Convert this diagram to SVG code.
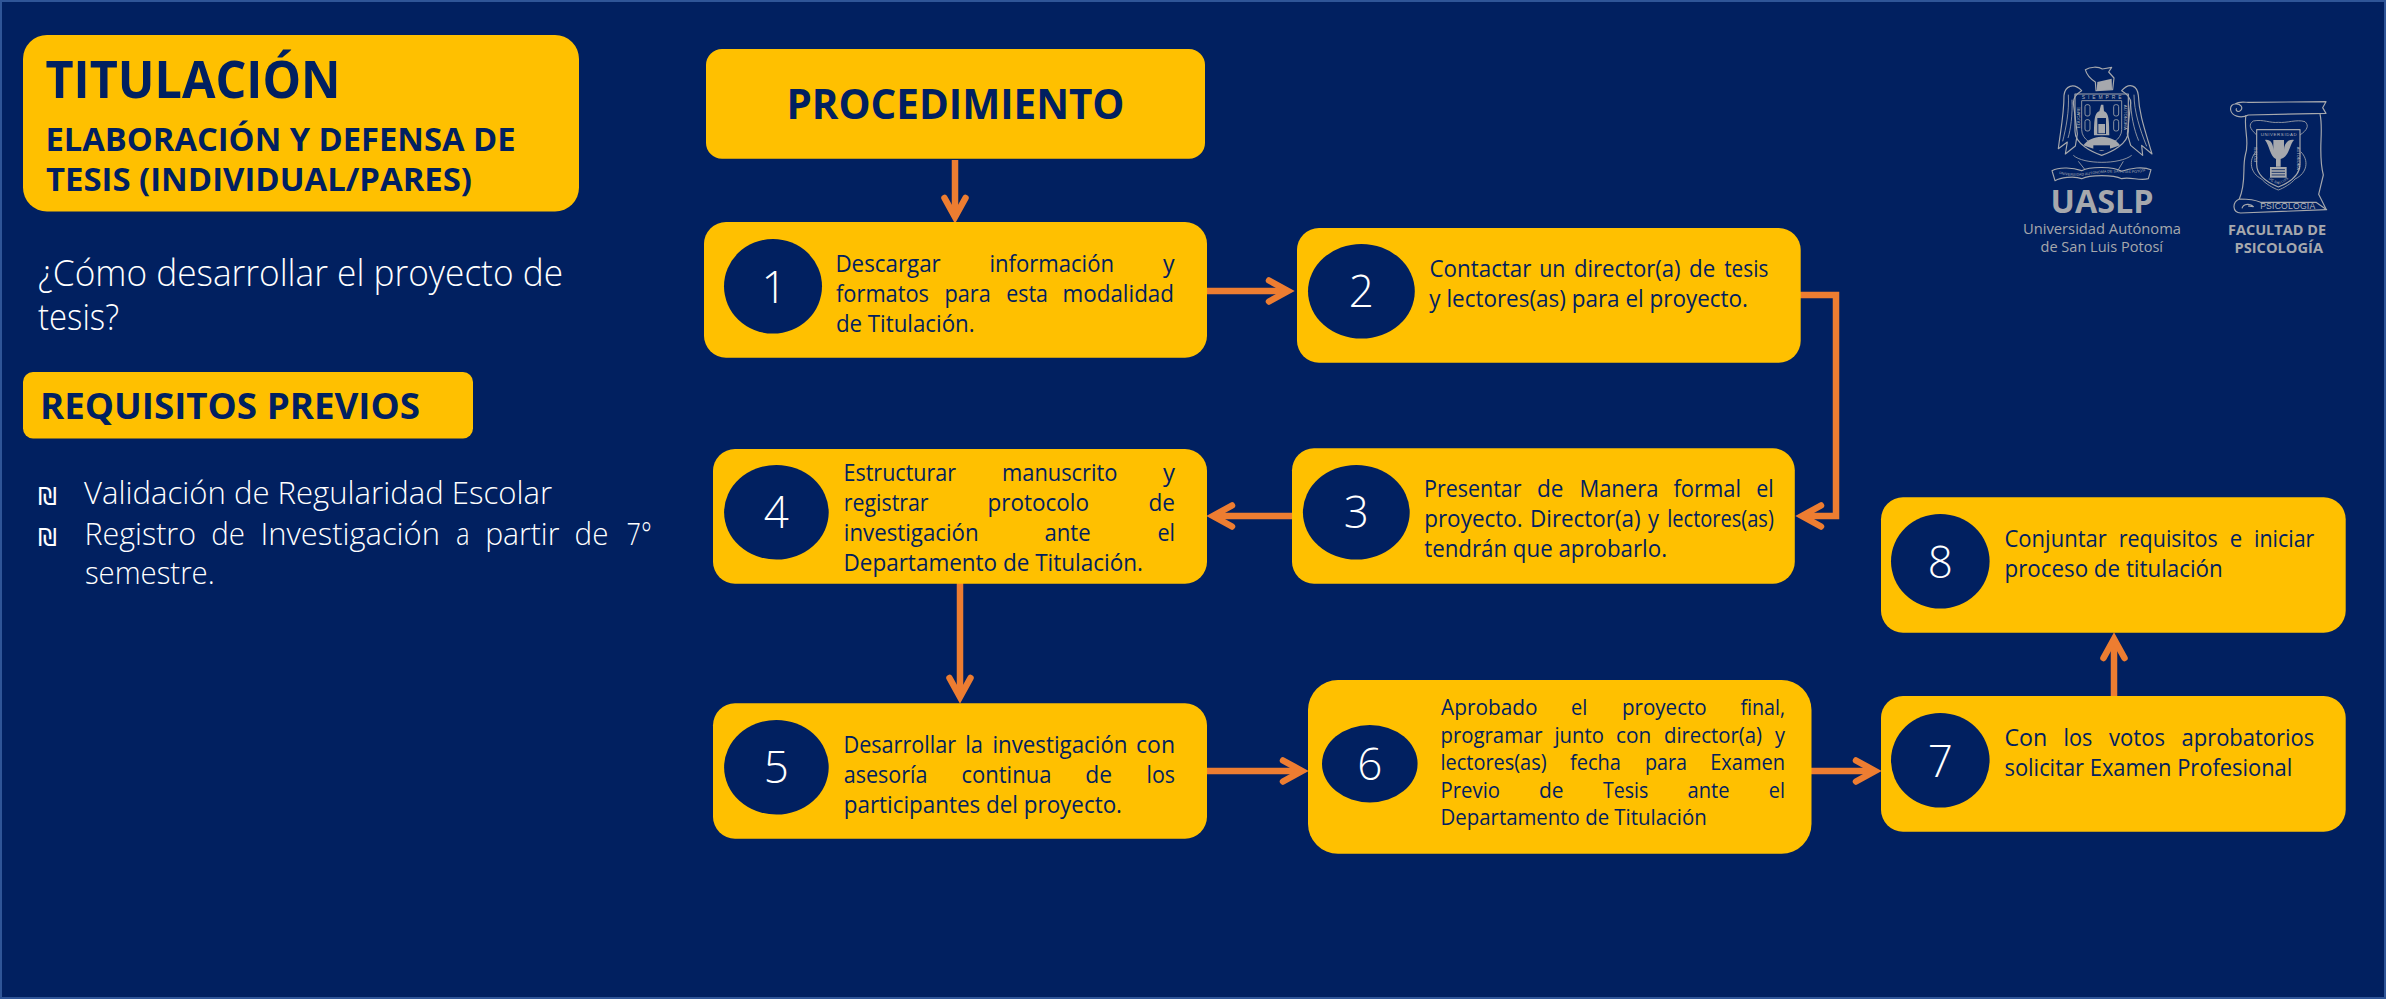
<svg xmlns="http://www.w3.org/2000/svg" width="2386" height="999" viewBox="0 0 2386 999">
<style>
.box{fill:#ffc000}
.c{fill:#012060}
.h{font-family:"Open Sans","Noto Sans",sans-serif;font-weight:700;fill:#012060}
.t{font-family:"Open Sans","Noto Sans",sans-serif;font-weight:400;font-size:24px;fill:#012060}
.s{font-size:22px}
.w{font-family:"Open Sans","Noto Sans",sans-serif;font-weight:300;fill:#fff}
.n{font-family:"Open Sans","Noto Sans",sans-serif;font-weight:300;font-size:44px;fill:#fff;text-anchor:middle}
.l{font-family:"Open Sans","Noto Sans",sans-serif;fill:#a6a8ad}
.cn{fill:none;stroke:#ed7d31;stroke-width:6.500}
.ln{fill:none;stroke:#a6a8ad;stroke-width:3.500;stroke-linejoin:round}
.ln2{fill:none;stroke:#a6a8ad;stroke-width:2.500}
.fl{fill:#a6a8ad}
.mi{font-family:"Liberation Sans",sans-serif;fill:#b4b6bb;font-size:15px;text-anchor:middle}
</style>
<defs><marker id="a" markerUnits="userSpaceOnUse" markerWidth="50" markerHeight="50" viewBox="-30 -25 50 50" refX="0" refY="0" orient="auto"><path d="M-19,-10.500 L0,0 L-19,10.500" fill="none" stroke="#ed7d31" stroke-width="6.500" stroke-linecap="round"/></marker>
<path id="arc1" d="M118,222 C128,255 160,272 185,280 C210,272 243,255 253,222"/>
<path id="arc2" d="M48,345 C100,360 130,352 185,345 C240,338 280,355 325,335"/>
<path id="arc3" d="M122,222 C132,245 155,262 175,268 C195,262 220,245 230,222"/></defs>
<rect x="1" y="1" width="2384" height="997" fill="#012060" stroke="#2f5597" stroke-width="2"/>
<g id="titulo"><rect class="box" x="23" y="35" width="556" height="176.500" rx="24"/>
<text class="h" x="45.500" y="98" font-size="52" textLength="295" lengthAdjust="spacingAndGlyphs">TITULACIÓN</text>
<text class="h" x="45.500" y="150.600" font-size="33" textLength="470" lengthAdjust="spacingAndGlyphs">ELABORACIÓN Y DEFENSA DE</text>
<text class="h" x="46" y="191" font-size="33" textLength="426" lengthAdjust="spacingAndGlyphs">TESIS (INDIVIDUAL/PARES)</text></g>
<g id="pregunta"><text class="w" x="38" y="285.500" font-size="36" textLength="525" lengthAdjust="spacingAndGlyphs">¿Cómo desarrollar el proyecto de</text>
<text class="w" x="38" y="330" font-size="36" textLength="81" lengthAdjust="spacingAndGlyphs">tesis?</text></g>
<g id="requisitos"><rect class="box" x="23" y="372" width="450" height="66.500" rx="10"/>
<text class="h" x="40" y="419" font-size="36" textLength="380" lengthAdjust="spacingAndGlyphs">REQUISITOS PREVIOS</text></g>
<g id="lista"><text x="38" y="505" font-family="DejaVu Sans" font-size="24" fill="#fff">₪</text><text x="38" y="545.500" font-family="DejaVu Sans" font-size="24" fill="#fff">₪</text>
<text class="w" x="84" y="504" font-size="32" textLength="468" lengthAdjust="spacingAndGlyphs">Validación de Regularidad Escolar</text>
<text class="w" y="544.500" font-size="32"><tspan x="84.500" textLength="111.500" lengthAdjust="spacingAndGlyphs">Registro</tspan> <tspan x="211.200" textLength="33.800" lengthAdjust="spacingAndGlyphs">de</tspan> <tspan x="260.500" textLength="179.500" lengthAdjust="spacingAndGlyphs">Investigación</tspan> <tspan x="456" textLength="13.600" lengthAdjust="spacingAndGlyphs">a</tspan> <tspan x="485.200" textLength="74.200" lengthAdjust="spacingAndGlyphs">partir</tspan> <tspan x="574.600" textLength="33.800" lengthAdjust="spacingAndGlyphs">de</tspan> <tspan x="626.600" textLength="25.200" lengthAdjust="spacingAndGlyphs">7°</tspan></text>
<text class="w" x="84.900" y="584.400" font-size="32" textLength="129.800" lengthAdjust="spacingAndGlyphs">semestre.</text></g>
<g id="conectores">
<path class="cn" d="M955,160V217" marker-end="url(#a)"/>
<path class="cn" d="M1207,291H1288" marker-end="url(#a)"/>
<path class="cn" d="M1800,295H1836V516H1802" marker-end="url(#a)"/>
<path class="cn" d="M1292,516H1213" marker-end="url(#a)"/>
<path class="cn" d="M960,583V697" marker-end="url(#a)"/>
<path class="cn" d="M1207,771H1302" marker-end="url(#a)"/>
<path class="cn" d="M1811,771H1875" marker-end="url(#a)"/>
<path class="cn" d="M2114,697V639" marker-end="url(#a)"/>
</g>
<g id="procedimiento"><rect class="box" x="706" y="49" width="499" height="109.700" rx="16"/>
<text class="h" x="786.500" y="119.300" font-size="42" textLength="338" lengthAdjust="spacingAndGlyphs">PROCEDIMIENTO</text></g>
<g id="n1"><rect class="box" x="704" y="222" width="503" height="135.700" rx="22"/><ellipse class="c" cx="773" cy="286.300" rx="49" ry="47.300"/><text class="n" x="774" y="302.700">1</text>
<text class="t" y="271.700"><tspan x="835.400" textLength="105.300" lengthAdjust="spacingAndGlyphs">Descargar</tspan> <tspan x="989.500" textLength="124.500" lengthAdjust="spacingAndGlyphs">información</tspan> <tspan x="1163" textLength="11.600" lengthAdjust="spacingAndGlyphs">y</tspan></text>
<text class="t" y="301.700"><tspan x="836" textLength="93" lengthAdjust="spacingAndGlyphs">formatos</tspan> <tspan x="944.500" textLength="46.200" lengthAdjust="spacingAndGlyphs">para</tspan> <tspan x="1006.300" textLength="41.600" lengthAdjust="spacingAndGlyphs">esta</tspan> <tspan x="1062.500" textLength="111.500" lengthAdjust="spacingAndGlyphs">modalidad</tspan></text>
<text class="t" x="835.900" y="331.700" textLength="138.700" lengthAdjust="spacingAndGlyphs">de Titulación.</text></g>
<g id="n2"><rect class="box" x="1297" y="228" width="503.700" height="134.700" rx="22"/><ellipse class="c" cx="1361.400" cy="291.300" rx="53.400" ry="47.300"/><text class="n" x="1361.400" y="307.300">2</text>
<text class="t" y="277.300"><tspan x="1429.500" textLength="101.900" lengthAdjust="spacingAndGlyphs">Contactar</tspan> <tspan x="1539.200" textLength="26.200" lengthAdjust="spacingAndGlyphs">un</tspan> <tspan x="1574" textLength="106.500" lengthAdjust="spacingAndGlyphs">director(a)</tspan> <tspan x="1689.100" textLength="26.200" lengthAdjust="spacingAndGlyphs">de</tspan> <tspan x="1724.200" textLength="44.100" lengthAdjust="spacingAndGlyphs">tesis</tspan></text>
<text class="t" x="1429.300" y="307.300" textLength="318.700" lengthAdjust="spacingAndGlyphs">y lectores(as) para el proyecto.</text></g>
<g id="n3"><rect class="box" x="1292" y="448.300" width="502.800" height="135.400" rx="22"/><ellipse class="c" cx="1356.300" cy="512.300" rx="53.400" ry="47.300"/><text class="n" x="1356.300" y="528.300">3</text>
<text class="t" y="497.300"><tspan x="1424" textLength="97.500" lengthAdjust="spacingAndGlyphs">Presentar</tspan> <tspan x="1536.900" textLength="26.500" lengthAdjust="spacingAndGlyphs">de</tspan> <tspan x="1579.400" textLength="79" lengthAdjust="spacingAndGlyphs">Manera</tspan> <tspan x="1673.500" textLength="67.500" lengthAdjust="spacingAndGlyphs">formal</tspan> <tspan x="1756.300" textLength="17.500" lengthAdjust="spacingAndGlyphs">el</tspan></text>
<text class="t" y="527.300"><tspan x="1424.200" textLength="98.500" lengthAdjust="spacingAndGlyphs">proyecto.</tspan> <tspan x="1530" textLength="110.600" lengthAdjust="spacingAndGlyphs">Director(a)</tspan> <tspan x="1648" textLength="11" lengthAdjust="spacingAndGlyphs">y</tspan> <tspan x="1667.300" textLength="106.500" lengthAdjust="spacingAndGlyphs">lectores(as)</tspan></text>
<text class="t" x="1424.200" y="557.300" textLength="242.800" lengthAdjust="spacingAndGlyphs">tendrán que aprobarlo.</text></g>
<g id="n4"><rect class="box" x="713" y="449" width="494" height="134.700" rx="22"/><ellipse class="c" cx="776.400" cy="512.300" rx="52.300" ry="47.300"/><text class="n" x="776.400" y="528.300">4</text>
<text class="t" y="481"><tspan x="843.500" textLength="112.500" lengthAdjust="spacingAndGlyphs">Estructurar</tspan> <tspan x="1002" textLength="115.500" lengthAdjust="spacingAndGlyphs">manuscrito</tspan> <tspan x="1163" textLength="12" lengthAdjust="spacingAndGlyphs">y</tspan></text>
<text class="t" y="511"><tspan x="843.800" textLength="84.800" lengthAdjust="spacingAndGlyphs">registrar</tspan> <tspan x="987.500" textLength="101.500" lengthAdjust="spacingAndGlyphs">protocolo</tspan> <tspan x="1148.500" textLength="26.500" lengthAdjust="spacingAndGlyphs">de</tspan></text>
<text class="t" y="541"><tspan x="843.800" textLength="134.800" lengthAdjust="spacingAndGlyphs">investigación</tspan> <tspan x="1044.500" textLength="46.200" lengthAdjust="spacingAndGlyphs">ante</tspan> <tspan x="1157.400" textLength="17.600" lengthAdjust="spacingAndGlyphs">el</tspan></text>
<text class="t" x="843.500" y="571" textLength="299.400" lengthAdjust="spacingAndGlyphs">Departamento de Titulación.</text></g>
<g id="n5"><rect class="box" x="713" y="703.300" width="494" height="135.400" rx="22"/><ellipse class="c" cx="776.400" cy="767.300" rx="52.300" ry="47.300"/><text class="n" x="776.400" y="783.300">5</text>
<text class="t" y="752.700"><tspan x="843.500" textLength="112.500" lengthAdjust="spacingAndGlyphs">Desarrollar</tspan> <tspan x="965.200" textLength="17.700" lengthAdjust="spacingAndGlyphs">la</tspan> <tspan x="992.400" textLength="135.100" lengthAdjust="spacingAndGlyphs">investigación</tspan> <tspan x="1136" textLength="39" lengthAdjust="spacingAndGlyphs">con</tspan></text>
<text class="t" y="782.700"><tspan x="843.800" textLength="83.700" lengthAdjust="spacingAndGlyphs">asesoría</tspan> <tspan x="961.500" textLength="89.900" lengthAdjust="spacingAndGlyphs">continua</tspan> <tspan x="1085.200" textLength="26.800" lengthAdjust="spacingAndGlyphs">de</tspan> <tspan x="1146.500" textLength="28.500" lengthAdjust="spacingAndGlyphs">los</tspan></text>
<text class="t" x="843.800" y="812.700" textLength="278.200" lengthAdjust="spacingAndGlyphs">participantes del proyecto.</text></g>
<g id="n6"><rect class="box" x="1308" y="680" width="503.500" height="173.700" rx="30"/><ellipse class="c" cx="1369.800" cy="763.700" rx="47.800" ry="38.700"/><text class="n" x="1369.800" y="780">6</text>
<text class="t s" y="715"><tspan x="1441" textLength="96.500" lengthAdjust="spacingAndGlyphs">Aprobado</tspan> <tspan x="1571" textLength="16.300" lengthAdjust="spacingAndGlyphs">el</tspan> <tspan x="1622" textLength="84.700" lengthAdjust="spacingAndGlyphs">proyecto</tspan> <tspan x="1740.500" textLength="44.500" lengthAdjust="spacingAndGlyphs">final,</tspan></text>
<text class="t s" y="742.700"><tspan x="1440.500" textLength="102.100" lengthAdjust="spacingAndGlyphs">programar</tspan> <tspan x="1554.500" textLength="49.400" lengthAdjust="spacingAndGlyphs">junto</tspan> <tspan x="1616" textLength="35.300" lengthAdjust="spacingAndGlyphs">con</tspan> <tspan x="1664" textLength="98" lengthAdjust="spacingAndGlyphs">director(a)</tspan> <tspan x="1775" textLength="10" lengthAdjust="spacingAndGlyphs">y</tspan></text>
<text class="t s" y="770"><tspan x="1440.500" textLength="106.100" lengthAdjust="spacingAndGlyphs">lectores(as)</tspan> <tspan x="1570" textLength="50.900" lengthAdjust="spacingAndGlyphs">fecha</tspan> <tspan x="1645" textLength="42" lengthAdjust="spacingAndGlyphs">para</tspan> <tspan x="1710.200" textLength="74.800" lengthAdjust="spacingAndGlyphs">Examen</tspan></text>
<text class="t s" y="797.700"><tspan x="1440.500" textLength="59.500" lengthAdjust="spacingAndGlyphs">Previo</tspan> <tspan x="1539" textLength="24.600" lengthAdjust="spacingAndGlyphs">de</tspan> <tspan x="1603" textLength="45.200" lengthAdjust="spacingAndGlyphs">Tesis</tspan> <tspan x="1687.600" textLength="42" lengthAdjust="spacingAndGlyphs">ante</tspan> <tspan x="1768.800" textLength="16.200" lengthAdjust="spacingAndGlyphs">el</tspan></text>
<text class="t s" x="1440.500" y="825" textLength="266.200" lengthAdjust="spacingAndGlyphs">Departamento de Titulación</text></g>
<g id="n7"><rect class="box" x="1881" y="696" width="464.700" height="135.700" rx="22"/><ellipse class="c" cx="1940.300" cy="760.300" rx="49.300" ry="47.300"/><text class="n" x="1940.300" y="776.700">7</text>
<text class="t" y="746"><tspan x="2004.500" textLength="42.800" lengthAdjust="spacingAndGlyphs">Con</tspan> <tspan x="2063.500" textLength="28.800" lengthAdjust="spacingAndGlyphs">los</tspan> <tspan x="2109" textLength="56" lengthAdjust="spacingAndGlyphs">votos</tspan> <tspan x="2181.500" textLength="132.800" lengthAdjust="spacingAndGlyphs">aprobatorios</tspan></text>
<text class="t" x="2004.500" y="776" textLength="287.800" lengthAdjust="spacingAndGlyphs">solicitar Examen Profesional</text></g>
<g id="n8"><rect class="box" x="1881" y="497.300" width="464.700" height="135.400" rx="22"/><ellipse class="c" cx="1940.300" cy="561.300" rx="49.300" ry="47.300"/><text class="n" x="1940.300" y="577.700">8</text>
<text class="t" y="547"><tspan x="2004.500" textLength="102.200" lengthAdjust="spacingAndGlyphs">Conjuntar</tspan> <tspan x="2118.800" textLength="98.900" lengthAdjust="spacingAndGlyphs">requisitos</tspan> <tspan x="2229.800" textLength="12.500" lengthAdjust="spacingAndGlyphs">e</tspan> <tspan x="2254" textLength="60.300" lengthAdjust="spacingAndGlyphs">iniciar</tspan></text>
<text class="t" x="2004.500" y="577" textLength="218.200" lengthAdjust="spacingAndGlyphs">proceso de titulación</text></g>
<g id="logo-uaslp">
<g transform="translate(2040,58) scale(.33333)">
<path class="ln" d="M136,35 C150,26 175,25 187,33 L215,28 L206,42 L222,60 L218,95 L168,98 L166,72 C150,62 140,50 136,35Z"/>
<path class="fl" d="M172,72 L215,62 L216,95 L170,97Z"/>
<path class="ln" d="M125,98 C100,72 75,85 72,112 C72,170 62,215 55,272 L82,252 L76,288 L106,264 L112,228 L100,135 C100,118 108,108 125,98Z"/>
<path class="ln" d="M245,98 C270,70 292,85 295,112 C297,170 318,225 336,288 L305,262 L308,292 L272,262 L262,228 L272,135 C272,118 262,108 245,98Z"/>
<path class="ln2" d="M85,110 C88,160 78,210 68,250M96,125 C98,170 92,215 84,240M282,110 C282,160 300,215 320,265M272,125 C272,170 282,215 296,248"/>
<path class="ln" d="M105,108 H265 V220 C265,258 215,282 185,292 C155,282 105,258 105,220Z"/>
<path class="ln2" d="M125,128 H245 V215 C245,245 210,262 185,270 C160,262 125,245 125,215Z"/>
<text class="mi" x="185" y="124" textLength="120">SIEMPRE</text>
<text class="mi" transform="translate(119,178) rotate(-90)" style="font-size:13px">EDUCARE</text>
<text class="mi" transform="translate(252,178) rotate(90)" style="font-size:13px">AUTONOMA</text>
<text class="mi" style="font-size:13px"><textPath href="#arc1" startOffset="50%">POR MI PATRIA</textPath></text>
<rect class="ln2" x="135" y="140" width="15" height="34" rx="6"/><rect class="ln2" x="221" y="140" width="15" height="34" rx="6"/><rect class="ln2" x="135" y="185" width="15" height="34" rx="6"/><rect class="ln2" x="221" y="185" width="15" height="34" rx="6"/>
<path class="fl" d="M183,140 L190,140 L192,160 C205,165 208,180 208,232 L162,232 C162,180 165,165 178,160Z"/>
<path class="c" d="M172,180 H198 V228 H172Z"/>
<path class="fl" d="M175,198 H195 V226 H175Z"/>
<path class="fl" d="M130,262 C142,245 160,238 185,236 C210,238 230,245 240,262 C225,268 205,275 185,278 C165,275 145,268 130,262Z"/>
<rect class="c" x="160" y="262" width="50" height="14"/>
<path class="ln" d="M36,338 C60,325 100,330 125,338 C150,325 220,325 245,340 C270,330 310,325 333,335 L325,362 C300,370 270,355 245,362 C220,350 150,350 125,362 C100,352 60,360 45,368Z"/>
<path class="ln2" d="M115,310 L135,335M250,310 L235,335M100,292 C130,320 240,320 275,292"/>
<text class="mi" style="font-size:11px"><textPath href="#arc2" startOffset="50%" textLength="262">UNIVERSIDAD AUTONOMA DE SAN LUIS POTOSI</textPath></text>
</g>
<text class="l" x="2050.500" y="212.500" font-size="33" font-weight="700" textLength="103" lengthAdjust="spacingAndGlyphs">UASLP</text>
<text class="l" x="2023" y="234" font-size="14.500" textLength="158" lengthAdjust="spacingAndGlyphs">Universidad Autónoma</text>
<text class="l" x="2040.500" y="252" font-size="14.500" textLength="122.500" lengthAdjust="spacingAndGlyphs">de San Luis Potosí</text>
</g>
<g id="logo-psicologia">
<g transform="translate(2220,95) scale(.33333)">
<path class="ln" d="M45,27 C60,16 80,24 95,22 L318,20 L308,38 L318,55 L85,60 C60,72 35,62 32,45 C30,33 38,27 45,27 C62,25 70,38 62,46 C54,54 45,46 50,40"/>
<path class="ln" d="M78,60 C70,100 90,140 76,180 C66,220 80,260 58,312M300,57 C312,110 292,170 310,240 L296,298 L318,342"/>
<path class="ln" d="M58,312 C36,322 36,352 62,354 L320,344 L288,322 L122,322 C100,312 78,312 58,312ZM66,340 C70,325 92,325 100,335 L84,333"/>
<text class="mi" x="203" y="341" textLength="165" style="font-size:26px">PSICOLOGIA</text>
<path class="ln" d="M110,104 H240 V208 C240,245 200,266 175,276 C150,266 110,245 110,208Z"/>
<path class="ln2" d="M110,120 C88,100 85,88 100,78 C130,72 150,85 175,82 C200,85 230,72 255,80 C268,92 262,105 240,120M108,170 C85,195 90,235 125,252 C135,265 160,280 175,285 C190,280 215,265 225,252 C262,235 268,195 242,170"/>
<text class="mi" x="176" y="124" style="font-size:13px" textLength="108">UNIVERSIDAD</text>
<text class="mi" transform="translate(232,190) rotate(90)" style="font-size:12px">AUTONOMA</text>
<text class="mi" transform="translate(110,178) rotate(-90)" style="font-size:12px">POTOSI</text>
<text class="mi" style="font-size:11px"><textPath href="#arc3" startOffset="50%">DE SAN LUIS</textPath></text>
<path class="fl" d="M135,135 C150,132 160,145 160,165 V135 H192 V165 C192,145 205,132 222,135 C208,150 208,185 182,192 V215 H168 V192 C150,185 148,150 135,135Z"/>
<rect class="fl" x="150" y="216" width="50" height="32"/>
<path class="ln2" d="M155,224 H195M155,232 H195M155,240 H195" style="stroke:#012060"/>
</g>
<text class="l" x="2228" y="235" font-size="14.500" font-weight="700" textLength="98" lengthAdjust="spacingAndGlyphs">FACULTAD DE</text>
<text class="l" x="2234.500" y="253" font-size="14.500" font-weight="700" textLength="88.500" lengthAdjust="spacingAndGlyphs">PSICOLOGÍA</text>
</g>
</svg>
